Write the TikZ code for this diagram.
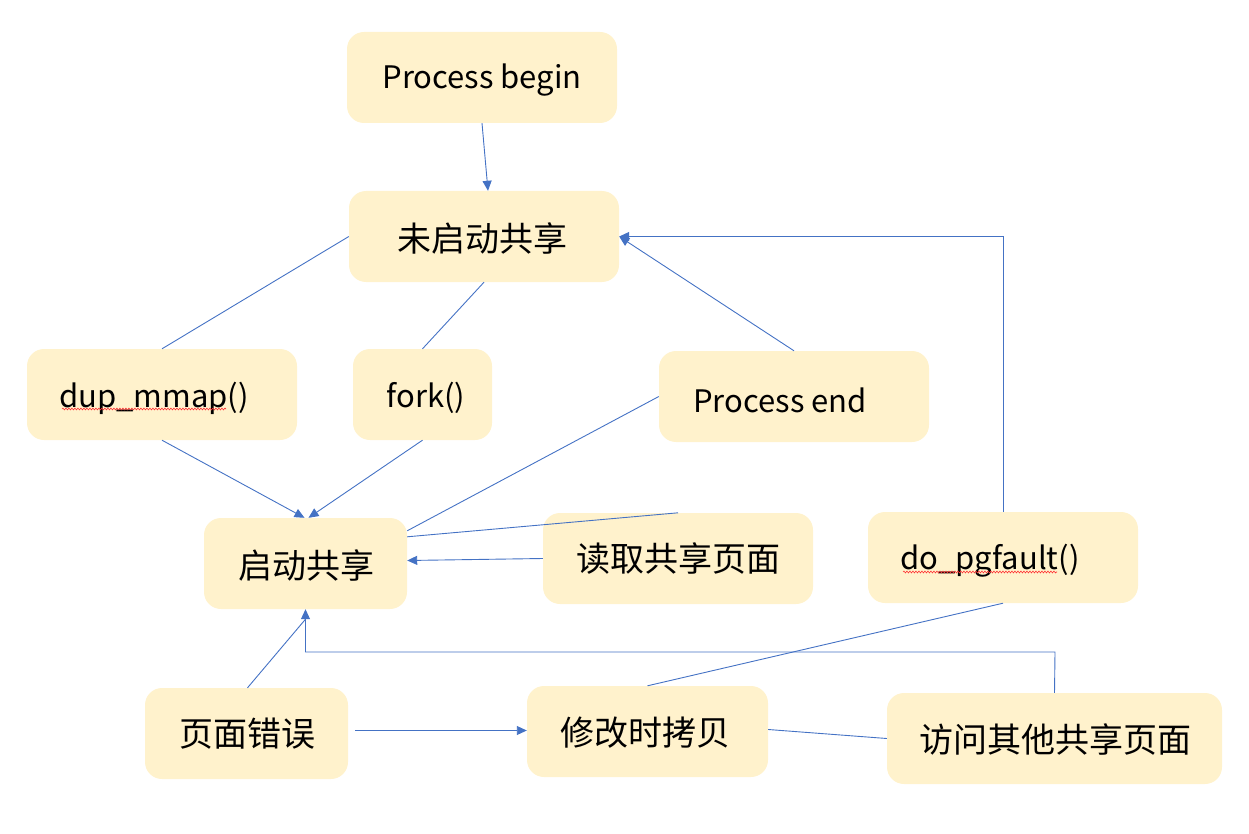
\documentclass[tikz,border=0pt]{standalone}
\usepackage{fontspec}
\setmainfont{Noto Sans CJK SC}
\usetikzlibrary{arrows.meta,calc,decorations.pathmorphing}
\definecolor{boxfill}{HTML}{FFF2CC}
\definecolor{linec}{HTML}{4472C4}
\tikzset{
  box/.style={draw=none,fill=boxfill,rounded corners=17pt,minimum height=91pt,inner sep=0pt},
  lbl/.style={font=\fontsize{31}{36}\selectfont,inner sep=0pt,anchor=center},
  cjk/.style={font=\fontsize{34}{40}\selectfont,inner sep=0pt,anchor=center},
  conn/.style={draw=linec,line width=0.9pt},
  arr/.style={conn,-{Triangle[length=10pt,width=9pt]}},
  squig/.style={draw=red!80,line width=0.6pt,decorate,decoration={snake,amplitude=0.9pt,segment length=3pt}}
}
\begin{document}
\begin{tikzpicture}[x=1pt,y=-1pt]
\useasboundingbox (0,0) rectangle (1249,834);
% boxes
\node[box,minimum width=270pt] (pb) at (482,77.5) {};
\node[box,minimum width=270pt] (wq) at (484,236.5) {};
\node[box,minimum width=270pt] (dm) at (162,394.5) {};
\node[box,minimum width=139pt] (fk) at (422.5,394.5) {};
\node[box,minimum width=270pt] (pe) at (794,396.5) {};
\node[box,minimum width=203pt] (qd) at (305.5,563.5) {};
\node[box,minimum width=270pt] (dq) at (678,558.5) {};
\node[box,minimum width=270pt] (dp) at (1003,557.5) {};
\node[box,minimum width=203pt] (ym) at (246.5,733.5) {};
\node[box,minimum width=241pt] (xg) at (647.5,731.5) {};
\node[box,minimum width=335pt] (fw) at (1054.5,738.5) {};
% labels
\node[lbl] (tpb) at (482,80) {Process begin};
\node[cjk] (twq) at (482,238) {未启动共享};
\node[lbl] (tdm) at (154,398) {dup\_mmap()};
\node[lbl] (tfk) at (426,398) {fork()};
\node[lbl] (tpe) at (780,400) {Process end};
\node[cjk] (tqd) at (306,565) {启动共享};
\node[cjk] (tdq) at (678,559) {读取共享页面};
\node[lbl] (tdp) at (990,561) {do\_pgfault()};
\node[cjk] (tym) at (247,734) {页面错误};
\node[cjk] (txg) at (645,733) {修改时拷贝};
\node[cjk] (tfw) at (1055,740) {访问其他共享页面};
% spell-check squiggles
\draw[squig] (62,409) -- (226,409);
\draw[squig] (903,572) -- (1057,572);
% connectors
\draw[arr] (pb.south) -- ([xshift=4pt]wq.north);
\draw[conn] (wq.west) -- (dm.north);
\draw[conn] (wq.south) -- (fk.north);
\draw[arr] (pe.north) -- (wq.east);
\draw[arr] (dp.north) |- (wq.east);
\draw[arr] (dm.south) -- ([xshift=-1pt]qd.north);
\draw[arr] (fk.south) -- ([xshift=3pt]qd.north);
\draw[conn] (pe.west) -- ([yshift=-13pt]qd.north east);
\draw[conn] ([yshift=-19pt]qd.north east) -- (dq.north);
\draw[arr] (dq.west) -- ([yshift=3pt]qd.east);
\draw[conn] ([xshift=1pt]ym.north) -- ([yshift=-10pt]qd.south);
\coordinate (elb) at (1055,652);
\draw[arr] (fw.north) -- (elb) -| (qd.south);
\draw[arr] ([xshift=7pt,yshift=3pt]ym.east) -- ([yshift=1pt]xg.west);
\draw[conn] (xg.north) -- (dp.south);
\draw[conn] ([yshift=2pt]xg.east) -- (fw.west);
\end{tikzpicture}
\end{document}
